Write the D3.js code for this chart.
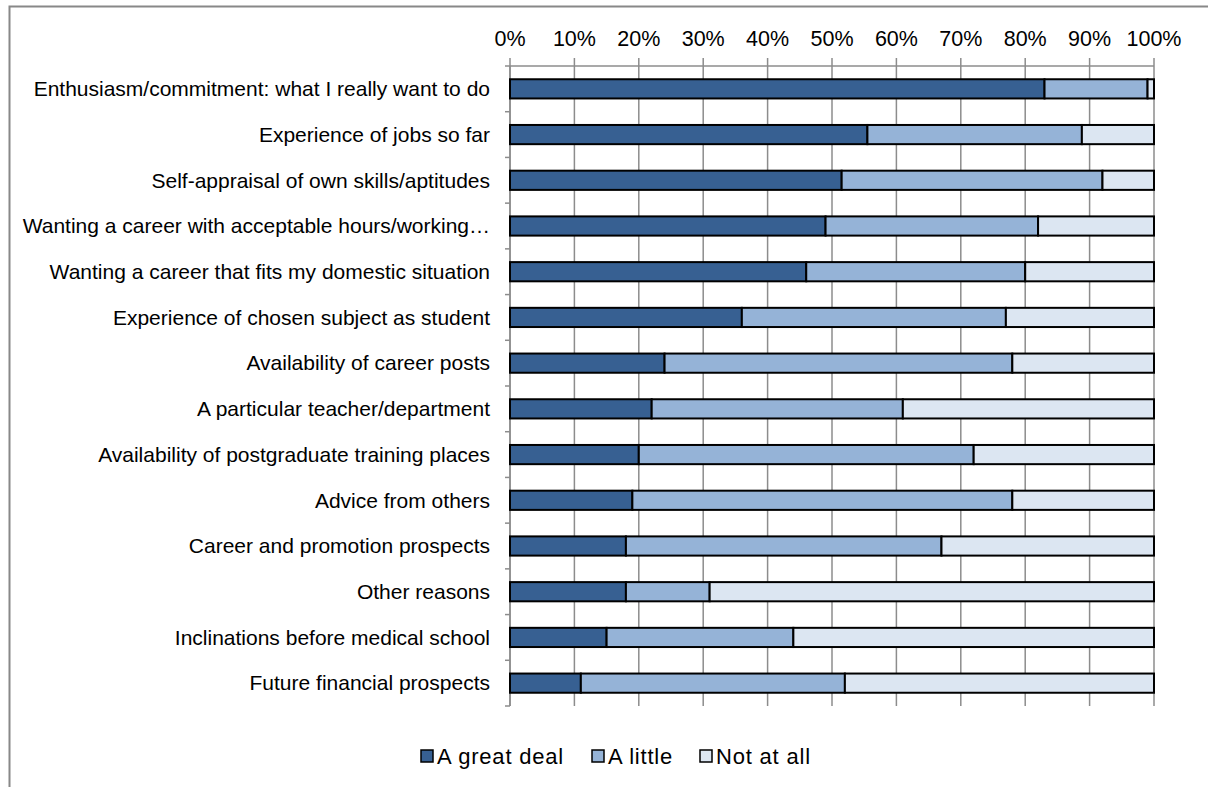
<!DOCTYPE html>
<html>
<head>
<meta charset="utf-8">
<script src="https://cdn.jsdelivr.net/npm/d3@7"></script>
<style>
  body { margin: 0; background: #fff; }
  svg { display: block; font-family: "Liberation Sans", Arial, sans-serif; }
</style>
</head>
<body>
<div id="graph"></div>
<script>
// categories, top to bottom
const categories = [
  "Enthusiasm/commitment: what I really want to do",
  "Experience of jobs so far",
  "Self-appraisal of own skills/aptitudes",
  "Wanting a career with acceptable hours/working\u2026",
  "Wanting a career that fits my domestic situation",
  "Experience of chosen subject as student",
  "Availability of career posts",
  "A particular teacher/department",
  "Availability of postgraduate training places",
  "Advice from others",
  "Career and promotion prospects",
  "Other reasons",
  "Inclinations before medical school",
  "Future financial prospects"
];
const seriesNames = ["A great deal", "A little", "Not at all"];
const greatDeal = [83, 55.5, 51.5, 49, 46, 36, 24, 22, 20, 19, 18, 18, 15, 11];
const aLittle   = [16, 33.3, 40.5, 33, 34, 41, 54, 39, 52, 59, 49, 13, 29, 41];
const notAtAll  = [1, 11.2, 8, 18, 20, 23, 22, 39, 28, 22, 33, 69, 56, 48];
const tickValues = [0, 10, 20, 30, 40, 50, 60, 70, 80, 90, 100];

const colors = ["#376092", "#95b3d7", "#dce6f2"];

const W = 1208, H = 787;
const margin = { top: 66, left: 510, right: 54, bottom: 81 };

const svg = d3.select("#graph").append("svg")
  .attr("width", W).attr("height", H);

// chart border (runs off right and bottom)
svg.append("rect")
  .attr("x", 9.5).attr("y", 6.5)
  .attr("width", 1300).attr("height", 900)
  .attr("fill", "none").attr("stroke", "#888").attr("stroke-width", 2);

const x = d3.scaleLinear().domain([0, 100]).range([margin.left, W - margin.right]);
const y = d3.scaleBand().domain(categories)
  .range([margin.top, H - margin.bottom])
  .paddingInner(0.58).paddingOuter(0.29);

const plotTop = margin.top, plotBottom = H - margin.bottom;

// vertical gridlines + cross ticks
svg.append("g").selectAll("line").data(tickValues).join("line")
  .attr("x1", d => x(d)).attr("x2", d => x(d))
  .attr("y1", plotTop - 8).attr("y2", plotBottom)
  .attr("stroke", "#8c8c8c").attr("stroke-width", 1.5);

// top axis line
svg.append("line")
  .attr("x1", x(0)).attr("x2", x(100))
  .attr("y1", plotTop).attr("y2", plotTop)
  .attr("stroke", "#8c8c8c").attr("stroke-width", 1.5);

// top axis labels
svg.append("g").selectAll("text").data(tickValues).join("text")
  .attr("x", d => x(d)).attr("y", 46)
  .attr("text-anchor", "middle")
  .attr("font-size", 21.5).attr("fill", "#000")
  .text(d => d + "%");

// left axis line and ticks
svg.append("line")
  .attr("x1", x(0)).attr("x2", x(0))
  .attr("y1", plotTop).attr("y2", plotBottom)
  .attr("stroke", "#8c8c8c").attr("stroke-width", 1.5);
const boundaries = d3.range(categories.length + 1).map(i => plotTop + i * y.step());
svg.append("g").selectAll("line").data(boundaries).join("line")
  .attr("x1", x(0) - 5).attr("x2", x(0))
  .attr("y1", d => d).attr("y2", d => d)
  .attr("stroke", "#8c8c8c").attr("stroke-width", 1.5);

// stacked data
const rows = categories.map((c, i) => ({
  cat: c, "A great deal": greatDeal[i], "A little": aLittle[i], "Not at all": notAtAll[i]
}));
const stacked = d3.stack().keys(seriesNames)(rows);

svg.append("g").selectAll("g").data(stacked).join("g")
  .attr("fill", (d, i) => colors[i])
  .selectAll("rect").data(d => d).join("rect")
  .attr("x", d => x(d[0]))
  .attr("y", d => y(d.data.cat))
  .attr("width", d => x(d[1]) - x(d[0]))
  .attr("height", y.bandwidth())
  .attr("stroke", "#000").attr("stroke-width", 2);

// category labels
svg.append("g").selectAll("text").data(categories).join("text")
  .attr("x", 490)
  .attr("y", d => y(d) + y.bandwidth() / 2)
  .attr("dy", "0.35em")
  .attr("text-anchor", "end")
  .attr("font-size", 21).attr("fill", "#000")
  .text(d => d);

// legend
const legendX = [421, 592, 700];
const legend = svg.append("g").selectAll("g").data(seriesNames).join("g")
  .attr("transform", (d, i) => "translate(" + legendX[i] + ",756)");
legend.append("rect")
  .attr("x", 0).attr("y", -6).attr("width", 12).attr("height", 12)
  .attr("fill", (d, i) => colors[i]).attr("stroke", "#000").attr("stroke-width", 1.5);
legend.append("text")
  .attr("x", 16).attr("dy", "0.35em")
  .attr("font-size", 22).attr("letter-spacing", 0.8).attr("fill", "#000")
  .text(d => d);
</script>
</body>
</html>
